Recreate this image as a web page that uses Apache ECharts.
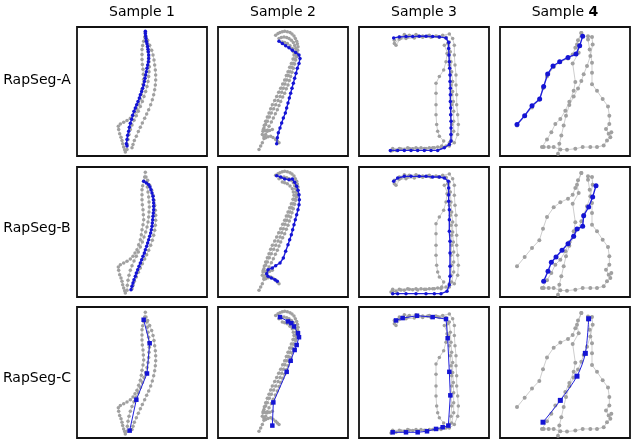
<!DOCTYPE html>
<html>
<head>
<meta charset="utf-8">
<script src="https://cdn.jsdelivr.net/npm/echarts@6/dist/echarts.min.js"></script>
<style>
  html, body { margin: 0; padding: 0; background: #fff; }
  #chart { width: 635px; height: 440px; }
</style>
</head>
<body>
<div id="chart"></div>
<script>
// column / row labels
const sampleNames = ['Sample 1', 'Sample 2', 'Sample 3', 'Sample 4'];
const methodNames = ['RapSeg-A', 'RapSeg-B', 'RapSeg-C'];

// gray reference trajectories, one set per sample (x right, y down, 0..390)
const gray1 = [
  [[205,16],[203,30],[200,43],[197,56],[195,68],[195,83],[195,98],[196,113],[198,128],[199,143],[200,158],[198,173],[195,188],[193,203],[190,218],[185,233],[180,248],[174,258],[168,268],[160,276],[150,283],[140,288],[130,293],[124,300],[125,310],[128,323],[132,333],[135,343],[137,353],[140,363],[143,371],[145,378]],
  [[212,40],[218,55],[224,70],[228,85],[231,100],[233,115],[235,130],[236,145],[236,160],[235,175],[233,190],[230,205],[226,220],[221,235],[215,250],[209,263],[203,276],[196,290],[190,303],[184,316],[178,330],[172,343],[168,355],[165,365]],
  [[207,30],[209,45],[211,60],[213,75],[215,90],[216,105],[217,120],[216,135],[215,150],[213,165],[210,180],[206,195],[201,210],[196,225],[190,240],[184,255],[178,268],[171,282],[165,296],[160,310],[156,325],[153,340],[151,355],[150,370]]
];
const gray2 = [
  [[173,25],[180,20],[186,17],[193,14],[200,13],[208,14],[216,17],[222,21],[228,27],[232,35],[236,43],[238,51],[240,60],[239,70],[238,80],[236,90],[233,100],[230,112],[226,125],[222,137],[218,150],[214,162],[210,175],[205,187],[200,200],[194,212],[188,225],[183,237],[178,250],[172,262],[166,275],[160,287],[153,300],[148,312],[143,325],[138,337],[133,350],[128,360],[123,370]],
  [[183,35],[190,32],[198,30],[206,32],[213,35],[220,40],[226,47],[230,56],[233,65],[234,75],[233,85],[230,97],[226,110],[221,122],[216,135],[211,147],[206,160],[201,172],[196,185],[191,197],[186,210],[180,222],[173,235],[167,247],[160,260],[154,272],[148,285],[143,295],[138,305],[135,315],[133,325],[138,332],[143,335],[150,332],[158,330],[165,334],[173,340],[178,345],[183,350]],
  [[193,45],[200,47],[208,50],[216,57],[223,65],[226,75],[228,85],[225,97],[220,110],[215,122],[210,135],[205,147],[200,160],[194,172],[188,185],[182,197],[176,210],[170,222],[163,235],[158,247],[153,260],[148,272],[143,285],[139,297],[136,310],[142,314],[148,315],[155,313],[163,310]]
];
const gray3 = [
  [[106,40],[121,30],[136,23],[151,25],[171,23],[191,27],[211,25],[231,27],[251,25],[271,21],[281,35],[286,55],[286,85],[288,115],[291,145],[291,175],[293,205],[293,235],[296,265],[298,295],[296,325],[286,350],[271,360],[246,365],[221,365],[196,367],[171,365],[146,365],[121,367],[101,367]],
  [[106,50],[121,37],[141,35],[166,33],[191,31],[216,31],[241,31],[261,33],[271,45],[274,75],[276,105],[278,135],[281,165],[281,195],[283,225],[284,255],[284,285],[284,315],[278,345],[261,360],[236,363],[211,365],[186,365],[161,368],[136,370],[111,373],[96,375]],
  [[111,55],[126,33],[146,30],[176,27],[206,27],[236,29],[261,31],[266,50],[264,80],[261,105],[254,130],[241,150],[231,170],[231,200],[231,235],[231,265],[233,295],[236,315],[241,330],[254,345],[248,360],[226,365],[201,367],[176,369],[151,367],[126,369],[101,373]],
  [[256,55],[268,85],[271,115],[274,145],[276,175],[278,205],[278,235],[276,265],[278,295],[276,325],[271,350]]
];
const gray4 = [
  [[51,298],[74,270],[96,243],[118,220],[129,185],[141,150],[161,121],[181,106],[204,95],[218,83],[226,63],[234,40],[244,18]],
  [[244,18],[231,53],[236,78],[218,110],[226,166],[221,193],[208,226],[196,253],[181,278],[166,293],[154,318],[141,340],[126,363]],
  [[264,28],[276,30],[278,53],[271,88],[261,118],[251,143],[244,163],[234,186],[221,210],[208,236],[198,268],[191,298],[184,328],[178,353],[174,383]],
  [[264,38],[269,68],[276,108],[276,138],[276,173],[291,193],[308,218],[324,240],[328,268],[328,293],[318,308],[326,323],[334,318],[331,333],[321,343],[311,358],[291,363],[271,363],[248,363],[226,368],[201,371],[181,370],[161,363],[146,363],[131,363]]
];

// blue result trajectories, one per panel
const blueA1 = [[205,13],[205,20],[206,27],[207,35],[208,43],[210,51],[212,59],[213,67],[214,75],[215,85],[215,95],[214,105],[212,115],[210,125],[208,135],[206,145],[204,155],[202,165],[200,175],[197,185],[194,195],[190,205],[187,215],[183,225],[179,235],[175,245],[171,255],[167,267],[164,279],[160,291],[157,303],[155,315],[152,327],[150,340],[148,353],[150,360]];
const blueB1 = [[200,43],[208,48],[215,53],[219,60],[222,68],[225,78],[228,88],[229,98],[230,108],[230,118],[230,128],[229,138],[228,148],[227,158],[226,168],[225,178],[223,188],[221,198],[218,208],[215,218],[212,228],[209,238],[205,248],[202,258],[198,268],[194,278],[190,288],[186,298],[182,308],[178,318],[175,328],[171,338],[168,348],[165,358],[162,368]];
const blueC1 = [[200,38],[218,108],[210,198],[178,276],[158,368]];
const blueA2 = [[183,43],[193,50],[203,57],[213,63],[223,70],[233,77],[243,85],[246,95],[243,110],[238,125],[234,140],[230,155],[226,170],[222,185],[218,200],[214,215],[210,230],[206,245],[202,260],[196,275],[191,290],[186,305],[181,320],[178,335],[176,353]];
const blueB2 = [[176,26],[188,30],[200,36],[213,38],[223,36],[230,46],[236,58],[240,70],[243,83],[244,98],[243,113],[240,128],[236,143],[232,158],[228,173],[224,188],[220,203],[215,218],[210,233],[203,253],[196,273],[186,288],[173,296],[163,303],[150,308],[146,320],[150,328],[160,333],[171,338],[178,343]];
const blueC2 = [[186,30],[210,43],[220,48],[228,58],[240,78],[243,90],[236,113],[230,128],[218,160],[206,193],[166,284],[163,353]];
const blueA3 = [[104,33],[121,30],[141,29],[161,29],[181,28],[201,28],[221,29],[241,30],[261,33],[269,47],[269,65],[270,85],[271,105],[272,125],[273,145],[273,165],[274,185],[274,205],[274,225],[275,245],[275,265],[276,285],[276,305],[276,325],[276,345],[271,355],[256,365],[236,373],[216,373],[196,373],[176,373],[156,373],[136,373],[116,373],[94,373]];
const blueB3 = [[104,43],[116,33],[136,28],[156,28],[181,28],[201,28],[221,30],[241,30],[256,33],[268,43],[269,63],[269,83],[269,103],[271,128],[271,158],[271,193],[273,223],[273,258],[273,298],[273,328],[271,353],[264,373],[246,380],[226,380],[201,380],[171,380],[141,380],[116,380],[101,380]];
const blueC3 = [[111,40],[131,33],[174,26],[221,30],[261,36],[266,93],[271,193],[274,263],[268,353],[251,358],[231,363],[204,370],[176,373],[141,373],[101,373]];
const blueA4 = [[51,295],[74,268],[96,238],[119,218],[131,180],[143,142],[159,118],[179,105],[204,92],[228,82],[239,57],[248,28]];
const blueB4 = [[131,343],[144,313],[154,286],[168,270],[186,250],[204,230],[221,208],[231,186],[248,178],[251,146],[266,120],[278,90],[288,56]];
const blueC4 = [[129,343],[181,278],[231,206],[256,138],[266,35]];

const grays = [gray1, gray2, gray3, gray4];
const blues = [
  [blueA1, blueA2, blueA3, blueA4],
  [blueB1, blueB2, blueB3, blueB4],
  [blueC1, blueC2, blueC3, blueC4]
];

const colLeft = [77, 218, 359, 500];
const rowTop = [27, 167, 307];
const rowH = [129, 130, 131];
const panelW = 130;

const chart = echarts.init(document.getElementById('chart'), null, { renderer: 'canvas' });

let grid = [], xAxis = [], yAxis = [], series = [];
for (let r = 0; r < 3; r++) {
  for (let c = 0; c < 4; c++) {
    let gi = r * 4 + c;
    grid.push({
      left: colLeft[c], top: rowTop[r], width: panelW, height: rowH[r],
      show: true, borderColor: '#111', borderWidth: 1.8, backgroundColor: '#fff'
    });
    xAxis.push({ gridIndex: gi, type: 'value', min: 0, max: 390, show: false });
    yAxis.push({ gridIndex: gi, type: 'value', min: 0, max: 390, inverse: true, show: false });
    let sparse = c === 3;
    grays[c].forEach(path => {
      series.push({
        type: 'line', xAxisIndex: gi, yAxisIndex: gi, data: path,
        symbol: 'circle', symbolSize: sparse ? 4 : 3.5, silent: true,
        lineStyle: { color: '#b8b8b8', width: 0.7 },
        itemStyle: { color: '#a0a0a0' },
        animation: false, z: 2
      });
    });
    let thin = r === 2;
    series.push({
      type: 'line', xAxisIndex: gi, yAxisIndex: gi, data: blues[r][c],
      smooth: thin && c === 3 ? 0.3 : false,
      symbol: thin ? 'rect' : 'circle',
      symbolSize: sparse ? 5 : (thin ? 4.5 : 3.5),
      lineStyle: { color: '#2020dc', width: thin ? 1 : 1.4 },
      itemStyle: { color: '#1414d4' },
      animation: false, z: 3
    });
  }
}

let graphic = [];
sampleNames.forEach((t, c) => {
  let parts = t.split(' ');
  graphic.push({
    type: 'text', x: colLeft[c] + panelW / 2, y: 12,
    style: {
      text: '{a|' + parts[0] + ' }{b|' + parts[1] + '}',
      rich: {
        a: { font: '14px "DejaVu Sans"', fill: '#000' },
        b: { font: (c === 3 ? 'bold ' : '') + '14px "DejaVu Sans"', fill: '#000' }
      },
      textAlign: 'center', textVerticalAlign: 'middle'
    }
  });
});
const labelY = [80, 228, 378];
methodNames.forEach((t, r) => {
  graphic.push({
    type: 'text', x: 37, y: labelY[r],
    style: { text: t, font: '14px "DejaVu Sans"', fill: '#000', textAlign: 'center', textVerticalAlign: 'middle' }
  });
});

chart.setOption({
  animation: false,
  grid: grid, xAxis: xAxis, yAxis: yAxis, series: series,
  graphic: graphic
});
</script>
</body>
</html>
